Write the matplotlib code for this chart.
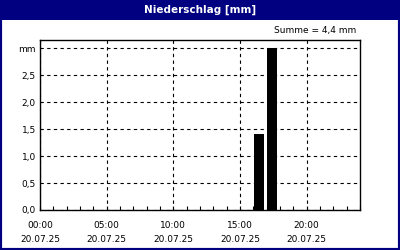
import matplotlib
matplotlib.use("Agg")
import matplotlib.pyplot as plt
from matplotlib.patches import Rectangle

# Stundenwerte Niederschlag
stunden = [16, 17]
niederschlag = [1.4, 3.0]
tick_stunden = [0, 5, 10, 15, 20]
tick_labels = ["00:00\n20.07.25", "05:00\n20.07.25", "10:00\n20.07.25",
               "15:00\n20.07.25", "20:00\n20.07.25"]
y_ticks = [0.0, 0.5, 1.0, 1.5, 2.0, 2.5, 3.0]
y_labels = ["0,0", "0,5", "1,0", "1,5", "2,0", "2,5", "mm"]

navy = "#000080"
W, H = 400, 250

fig = plt.figure(figsize=(4, 2.5), dpi=100)
fig.patch.set_facecolor("white")

# Rahmen und Titelleiste
fig.patches.append(Rectangle((0, 0), 1, 1, transform=fig.transFigure,
                             facecolor="none", edgecolor=navy, linewidth=3))
fig.patches.append(Rectangle((0, 1 - 20 / H), 1, 20 / H, transform=fig.transFigure,
                             facecolor=navy, edgecolor="none"))
fig.text(0.5, 1 - 10 / H, "Niederschlag [mm]", color="white", fontsize=7.5,
         fontweight="bold", ha="center", va="center")

ax = fig.add_axes([40 / W, 1 - 210 / H, 320 / W, 170 / H])
ax.bar([s + 0.05 for s in stunden], niederschlag, width=0.75, align="edge",
       color="black", zorder=3)

ax.set_xlim(0, 24)
ax.set_ylim(0, 3.15)
ax.set_xticks(tick_stunden)
ax.set_xticklabels(tick_labels, fontsize=6.5, linespacing=1.75)
ax.set_xticks(range(0, 25), minor=True)
ax.set_yticks(y_ticks)
ax.set_yticklabels(y_labels, fontsize=6.5)
ax.tick_params(axis="x", which="both", direction="in", length=3, width=0.8, pad=8)
ax.tick_params(axis="y", length=0, pad=3)
ax.grid(True, which="major", color="black", linestyle=(0, (3, 3)), linewidth=0.8)
for s in ax.spines.values():
    s.set_linewidth(1)
    s.set_color("black")

fig.text(356 / W, 1 - 31 / H, "Summe = 4,4 mm", fontsize=6.5, ha="right", va="center")

fig.savefig("out.png", dpi=100)
